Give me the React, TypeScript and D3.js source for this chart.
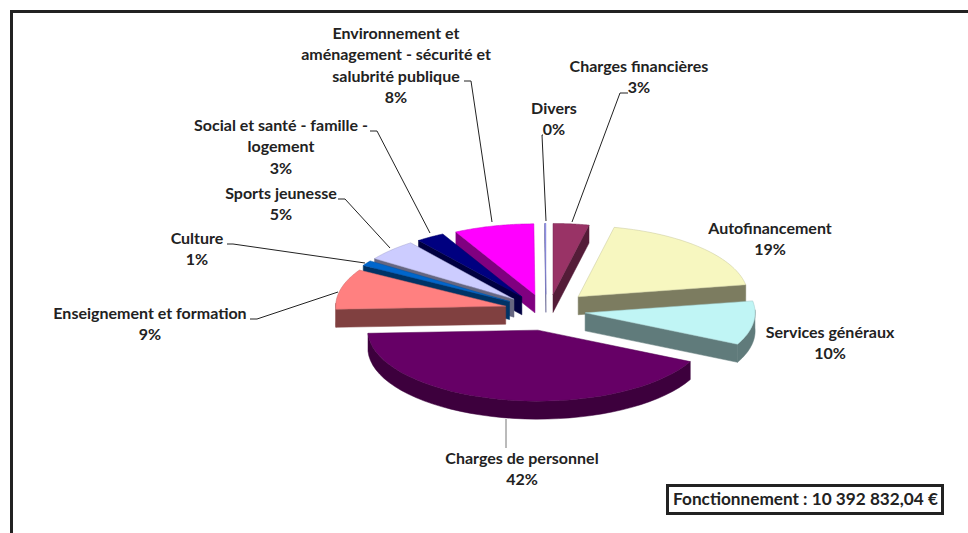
import React from "react";
import * as d3 from "d3";

// ---- data (clockwise from 12 o'clock)
const categories = [
  "Charges financières", "Autofinancement", "Services généraux", "Charges de personnel",
  "Enseignement et formation", "Culture", "Sports jeunesse",
  "Social et santé - famille - logement", "Environnement et aménagement - sécurité et salubrité publique", "Divers",
];
const values = [3.4, 18.9, 10.0, 42.0, 9.2, 1.2, 4.9, 2.7, 7.6, 0.1];
const percentLabels = ["3%", "19%", "10%", "42%", "9%", "1%", "5%", "3%", "8%", "0%"];
const colors = ["#993366", "#F7F7C0", "#C0F5F5", "#660066", "#FF8080", "#0066CC", "#CCCCFF", "#000080", "#FF00FF", "#9999FF"];
const explosions = [0.22, 0.27, 0.28, 0.29, 0.22, 0.22, 0.22, 0.22, 0.22, 0.22];
const boxTitle = "Fonctionnement : 10 392 832,04 €";

// ---- layout
const W = 968, H = 533;
const CX = 543, CY = 310, RX = 170, RY = 71, DEPTH = 18;
const nudgeX = [6, 2, -5, 5, -1, -2, -2, -1, 1, 3];
const wallShade = [0.55, 0.5, 0.5, 0.6, 0.5, 0.5, 0.5, 0.5, 0.5, 0.5];
const drawOrder = [0, 9, 8, 7, 6, 5, 4, 1, 2, 3];
const labelLayout = [
  { lines: ["Charges financières"], x: 639, y: 72 },
  { lines: ["Autofinancement"], x: 770, y: 234 },
  { lines: ["Services généraux"], x: 830, y: 338 },
  { lines: ["Charges de personnel"], x: 522, y: 464 },
  { lines: ["Enseignement et formation"], x: 150, y: 319 },
  { lines: ["Culture"], x: 197, y: 244 },
  { lines: ["Sports jeunesse"], x: 281, y: 199 },
  { lines: ["Social et santé - famille -", "logement"], x: 281, y: 131 },
  { lines: ["Environnement et", "aménagement - sécurité et", "salubrité publique"], x: 396, y: 39 },
  { lines: ["Divers"], x: 554, y: 114 },
];
const leaders: { pts: [number, number][]; color: string }[] = [
  { pts: [[628, 93], [620, 93], [572, 222]], color: "#222" },
  { pts: [[543, 135], [542, 135], [546, 221]], color: "#222" },
  { pts: [[464, 81], [471, 81], [492, 222]], color: "#222" },
  { pts: [[370, 131], [377, 131], [430, 233]], color: "#222" },
  { pts: [[338, 199], [345, 199], [390, 248]], color: "#222" },
  { pts: [[227, 244], [233, 244], [365, 263]], color: "#222" },
  { pts: [[250, 319], [257, 319], [338, 292]], color: "#222" },
  { pts: [[506, 419], [506, 448]], color: "#777" },
];

const FONT = "Lato, 'Open Sans', sans-serif";
const lineGen = d3.line<[number, number]>();

function shade(c: string, k: number) {
  const r = d3.rgb(c);
  return d3.rgb(r.r * k, r.g * k, r.b * k).formatHex();
}

export default function App() {
  const arcs = d3.pie<number>().sort(null).startAngle(0).endAngle(2 * Math.PI)(values);
  const sx = d3.scaleLinear().domain([-1, 1]).range([-RX, RX]);
  const sy = d3.scaleLinear().domain([-1, 1]).range([-RY, RY]);

  const slices = arcs.map((a, i) => {
    const mid = (a.startAngle + a.endAngle) / 2;
    const ax = CX + nudgeX[i] + sx(Math.sin(mid) * explosions[i]);
    const ay = CY + sy(-Math.cos(mid) * explosions[i]);
    const at = (t: number): [number, number] => [ax + sx(Math.sin(t)), ay + sy(-Math.cos(t))];
    const thetas = d3.range(0, 41).map((k) => a.startAngle + ((a.endAngle - a.startAngle) * k) / 40);
    const rim = thetas.map(at);
    const top = lineGen([[ax, ay], ...rim])! + "Z";
    const walls: string[] = [];
    const down = (p: [number, number]): [number, number] => [p[0], p[1] + DEPTH];
    if (Math.sin(a.startAngle) < -1e-6) {
      walls.push(lineGen([[ax, ay], rim[0], down(rim[0]), down([ax, ay])])! + "Z");
    }
    if (Math.sin(a.endAngle) > 1e-6) {
      const e = rim[rim.length - 1];
      walls.push(lineGen([[ax, ay], e, down(e), down([ax, ay])])! + "Z");
    }
    const front = thetas.filter((t) => Math.cos(t) <= 0.05).map(at);
    if (front.length > 1) {
      walls.push(lineGen([...front, ...front.slice().reverse().map(down)])! + "Z");
    }
    return { top, walls, fill: colors[i], name: categories[i], k: wallShade[i] };
  });

  return (
    <svg
      width={W}
      height={H}
      viewBox={`0 0 ${W} ${H}`}
      style={{ position: "absolute", left: 0, top: 0, background: "#fff" }}
    >
      <path d={`M11.5 ${H}V11.5H${W}`} fill="none" stroke="#222" strokeWidth={3} />
      {drawOrder.map((i) => {
        const s = slices[i];
        const side = shade(s.fill, s.k);
        return (
          <g key={s.name}>
            {s.walls.map((d, k) => (
              <path key={k} d={d} fill={side} stroke={side} strokeWidth={0.5} />
            ))}
            <path d={s.top} fill={s.fill} stroke={shade(s.fill, 0.8)} strokeWidth={0.5} strokeLinejoin="round" />
          </g>
        );
      })}
      {leaders.map((l, i) => (
        <path key={i} d={lineGen(l.pts)!} fill="none" stroke={l.color} strokeWidth={1} />
      ))}
      <g fontFamily={FONT} fontWeight={700} fontSize={16} fill="#222" textAnchor="middle">
        {labelLayout.map((l, i) => (
          <text key={categories[i]} x={l.x} y={l.y}>
            {[...l.lines, percentLabels[i]].map((t, k) => (
              <tspan key={k} x={l.x} dy={k === 0 ? 0 : 21.3}>
                {t}
              </tspan>
            ))}
          </text>
        ))}
      </g>
      <rect x={667.5} y={485.5} width={275} height={28} fill="#fff" stroke="#222" strokeWidth={3} />
      <text x={805.5} y={505} textAnchor="middle" fontFamily={FONT} fontWeight={700} fontSize={17.2} fill="#222">
        {boxTitle}
      </text>
    </svg>
  );
}
